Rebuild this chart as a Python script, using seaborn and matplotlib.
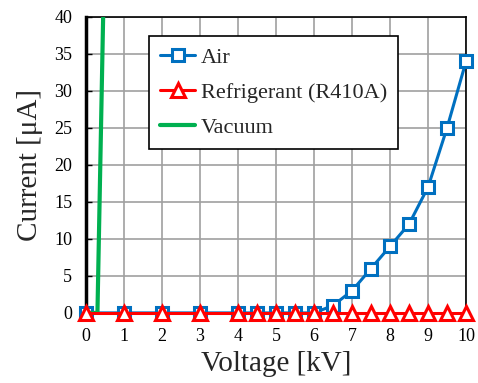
import matplotlib
matplotlib.use("Agg")
import matplotlib.pyplot as plt
import seaborn as sns
import pandas as pd

# Measured discharge current versus applied voltage
voltage = [0, 1, 2, 3, 4, 4.5, 5, 5.5, 6, 6.5, 7, 7.5, 8, 8.5, 9, 9.5, 10]
air_current = [0, 0, 0, 0, 0, 0, 0, 0, 0, 1, 3, 6, 9, 12, 17, 25, 34]
refrigerant_current = [0] * len(voltage)
vacuum_voltage = [0, 0.3, 0.45]
vacuum_current = [0, 0, 40]

x_ticks = list(range(0, 11))
y_ticks = list(range(0, 41, 5))

sns.set_theme(style="white")
plt.rcParams["font.family"] = ["Liberation Serif", "DejaVu Serif"]
plt.rcParams["mathtext.fontset"] = "stix"

fig = plt.figure(figsize=(4.78, 3.83), dpi=100)
ax = fig.add_axes([0.18, 0.183, 0.795, 0.773])

air_df = pd.DataFrame({"V": voltage, "I": air_current})
ref_df = pd.DataFrame({"V": voltage, "I": refrigerant_current})
vac_df = pd.DataFrame({"V": vacuum_voltage, "I": vacuum_current})

sns.lineplot(data=air_df, x="V", y="I", ax=ax, color="#0070C0", lw=2.2,
             marker="s", markersize=8.5, markerfacecolor="white",
             markeredgecolor="#0070C0", markeredgewidth=2.2,
             label="Air", clip_on=False, zorder=3)
sns.lineplot(data=vac_df, x="V", y="I", ax=ax, color="#00B050", lw=3,
             label="Vacuum", zorder=4)
sns.lineplot(data=ref_df, x="V", y="I", ax=ax, color="#FF0000", lw=2.2,
             marker="^", markersize=9.5, markerfacecolor="white",
             markeredgecolor="#FF0000", markeredgewidth=2.2,
             label="Refrigerant (R410A)", clip_on=False, zorder=5)

ax.set_xlim(0, 10)
ax.set_ylim(0, 40)
ax.set_xticks(x_ticks)
ax.set_yticks(y_ticks)
ax.grid(True, color="#A0A0A0", lw=1.2)
ax.tick_params(direction="in", length=4, width=1, labelsize=13,
               colors="black", left=True, bottom=True)
ax.tick_params(axis="x", pad=11)
ax.tick_params(axis="y", pad=10)
for side in ["top", "right", "bottom"]:
    ax.spines[side].set_color("black")
    ax.spines[side].set_linewidth(1.2)
ax.spines["left"].set_color("black")
ax.spines["left"].set_linewidth(2.5)

ax.set_xlabel("Voltage [kV]", fontsize=21, labelpad=4)
ax.set_ylabel("Current [μA]", fontsize=21, labelpad=8)

handles, labels = ax.get_legend_handles_labels()
order = [labels.index("Air"), labels.index("Refrigerant (R410A)"), labels.index("Vacuum")]
leg = ax.legend([handles[i] for i in order], [labels[i] for i in order],
                loc="upper left", bbox_to_anchor=(0.165, 0.935), fontsize=16,
                frameon=True, fancybox=False, edgecolor="black",
                handlelength=1.6, handletextpad=0.25, borderpad=0.5,
                labelspacing=0.65, borderaxespad=0)
leg.get_frame().set_linewidth(1.2)
leg.get_frame().set_alpha(1)

fig.savefig("out.png", dpi=100)
